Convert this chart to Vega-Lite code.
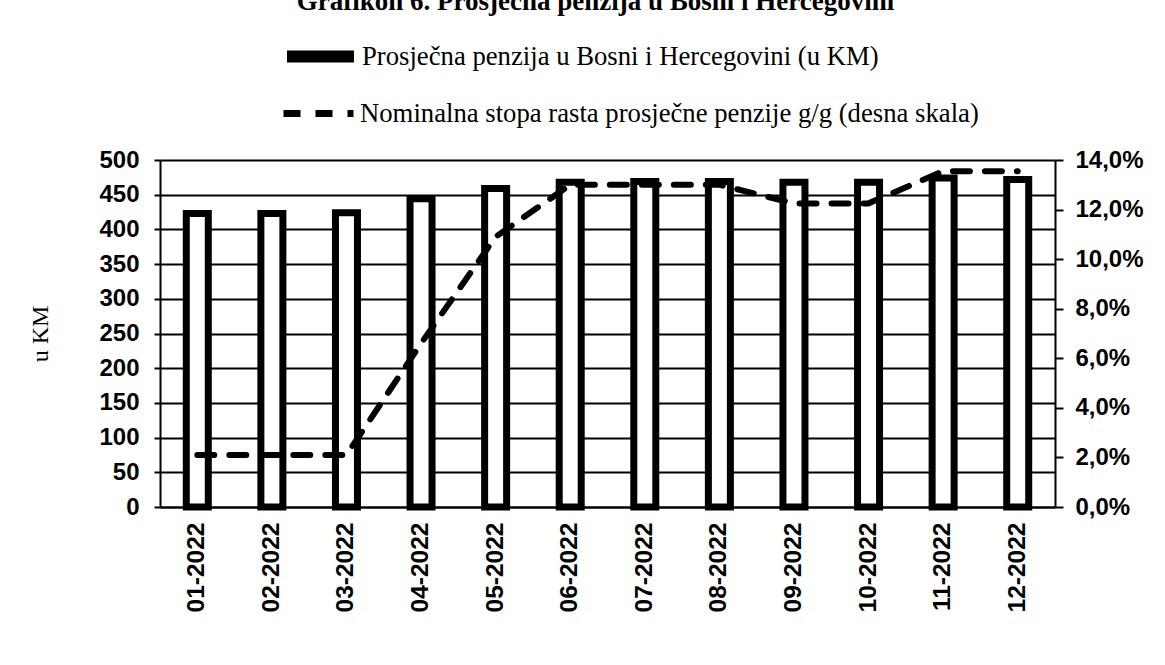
{
  "$schema": "https://vega.github.io/schema/vega-lite/v6.json",
  "width": 895,
  "height": 347,
  "autosize": {"type": "none"},
  "padding": {"left": 160, "top": 160, "right": 110, "bottom": 158},
  "background": "white",
  "title": {
    "text": "Grafikon 6. Prosječna penzija u Bosni i Hercegovini",
    "font": "Liberation Serif",
    "fontSize": 27,
    "fontWeight": "bold",
    "color": "black",
    "anchor": "middle",
    "offset": 4,
    "dx": -12,
    "dy": 3
  },
  "data": {
    "values": [
      {"mjesec": "01-2022", "penzija": 423, "stopa": 2.1},
      {"mjesec": "02-2022", "penzija": 423, "stopa": 2.1},
      {"mjesec": "03-2022", "penzija": 424, "stopa": 2.1},
      {"mjesec": "04-2022", "penzija": 444, "stopa": 6.6},
      {"mjesec": "05-2022", "penzija": 459, "stopa": 10.9},
      {"mjesec": "06-2022", "penzija": 468, "stopa": 13.0},
      {"mjesec": "07-2022", "penzija": 469, "stopa": 13.0},
      {"mjesec": "08-2022", "penzija": 469, "stopa": 13.0},
      {"mjesec": "09-2022", "penzija": 468, "stopa": 12.25},
      {"mjesec": "10-2022", "penzija": 468, "stopa": 12.25},
      {"mjesec": "11-2022", "penzija": 474, "stopa": 13.55},
      {"mjesec": "12-2022", "penzija": 472, "stopa": 13.55}
    ]
  },
  "encoding": {
    "x": {
      "field": "mjesec",
      "type": "ordinal",
      "sort": null,
      "scale": {"paddingInner": 0, "paddingOuter": 0},
      "axis": {
        "title": null,
        "labelAngle": -90,
        "labelAlign": "right",
        "labelBaseline": "middle",
        "labelFont": "Liberation Sans",
        "labelFontSize": 24.5,
        "labelFontWeight": "bold",
        "labelColor": "black",
        "labelPadding": 15,
        "ticks": false,
        "domainColor": "black",
        "domainWidth": 2,
        "grid": false
      }
    }
  },
  "layer": [
    {
      "mark": {"type": "bar", "fill": "white", "strokeWidth": 7, "size": 22},
      "encoding": {
        "y": {
          "field": "penzija",
          "type": "quantitative",
          "scale": {"domain": [0, 500], "nice": false},
          "axis": {
            "title": "u KM",
            "titleFont": "Liberation Serif",
            "titleFontSize": 24,
            "titleFontWeight": "normal",
            "titleColor": "black",
            "titlePadding": 46,
            "values": [0, 50, 100, 150, 200, 250, 300, 350, 400, 450, 500],
            "labelFont": "Liberation Sans",
            "labelFontSize": 24,
            "labelFontWeight": "bold",
            "labelColor": "black",
            "labelPadding": 15,
            "tickSize": 6,
            "tickWidth": 2,
            "tickColor": "black",
            "domainColor": "black",
            "domainWidth": 2,
            "grid": true,
            "gridColor": "black",
            "gridWidth": 2,
            "gridOpacity": 1
          }
        },
        "stroke": {
          "datum": "Prosječna penzija u Bosni i Hercegovini (u KM)",
          "type": "nominal",
          "scale": {"range": ["black"]},
          "legend": {
            "title": null,
            "orient": "none",
            "legendX": 121,
            "legendY": -143,
            "padding": 0,
            "symbolType": "M-1,0H1",
            "symbolSize": 4489,
            "symbolStrokeWidth": 12,
            "symbolStrokeColor": "black",
            "symbolFillColor": "black",
            "labelFont": "Liberation Serif",
            "labelFontSize": 26.7,
            "labelColor": "black",
            "labelOffset": 2,
            "labelLimit": 0
          }
        }
      }
    },
    {
      "mark": {"type": "line", "color": "black", "strokeWidth": 6, "strokeCap": "round"},
      "encoding": {
        "y": {
          "field": "stopa",
          "type": "quantitative",
          "scale": {"domain": [0, 14], "nice": false},
          "axis": {
            "orient": "right",
            "title": null,
            "values": [0, 2, 4, 6, 8, 10, 12, 14],
            "labelExpr": "replace(format(datum.value, '.1f'), '.', ',') + '%'",
            "labelFont": "Liberation Sans",
            "labelFontSize": 24,
            "labelFontWeight": "bold",
            "labelColor": "black",
            "labelPadding": 12,
            "tickSize": 8,
            "tickWidth": 2,
            "tickColor": "black",
            "domainColor": "black",
            "domainWidth": 2,
            "grid": false
          }
        },
        "strokeDash": {
          "datum": "Nominalna stopa rasta prosječne penzije g/g (desna skala)",
          "type": "nominal",
          "scale": {"range": [[17, 15]]},
          "legend": {
            "title": null,
            "orient": "none",
            "legendX": 120,
            "legendY": -85,
            "padding": 0,
            "symbolType": "stroke",
            "symbolSize": 4900,
            "symbolStrokeWidth": 7,
            "symbolStrokeColor": "black",
            "labelFont": "Liberation Serif",
            "labelFontSize": 26.7,
            "labelColor": "black",
            "labelOffset": 3,
            "labelLimit": 0
          }
        }
      }
    }
  ],
  "resolve": {"scale": {"y": "independent"}}
}
